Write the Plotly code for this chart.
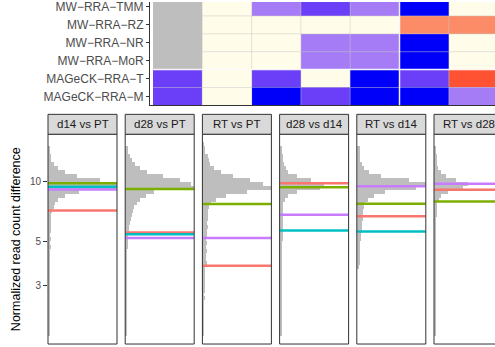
import numpy as np
import plotly.graph_objects as go

W, H = 495, 347
FONT = "Liberation Sans, Arial, sans-serif"

# ---------------- data ----------------
row_labels = ["MW−RRA−TMM", "MW−RRA−RZ", "MW−RRA−NR", "MW−RRA−MoR",
              "MAGeCK−RRA−T", "MAGeCK−RRA−M"]          # top -> bottom
heat_levels = [                                         # None = NA
    [None, 0, -1, -2, -1, -3, 0],
    [None, 0, 0, 0, 0, 1, 1],
    [None, 0, 0, -1, -1, -3, 0],
    [None, 0, 0, -1, -1, -3, 0],
    [-2, 0, -2, 0, -3, -2, 2],
    [-2, 0, -3, -2, -3, -3, -1],
]
level_order = [None, -3, -2, -1, 0, 1, 2]
level_colors = ["#BEBEBE", "#0000FA", "#6B3EF8", "#A67CF6", "#FFFDE9", "#FC8B68", "#FF5232"]

facet_labels = ["d14 vs PT", "d28 vs PT", "RT vs PT", "d28 vs d14", "RT vs d14", "RT vs d28"]

# histogram bins (log10 of normalized read count difference), top -> bottom
bin_top = 1.20
bin_step = 0.02
hist_counts = [
    # d14 vs PT
    [0, 3, 3, 4, 5, 9, 15, 25, 42, 75, 100, 97, 45, 24, 15, 10, 8, 6, 5, 5, 4, 5, 4, 3, 4,
     3, 4, 3, 3, 3, 2, 3, 2, 2, 2, 2, 2, 2, 2, 2, 2, 2, 2, 2, 2, 2, 2, 2, 2, 0],
    # d28 vs PT
    [0, 4, 5, 7, 10, 14, 22, 32, 55, 80, 95, 100, 42, 30, 22, 17, 13, 12, 10, 9, 7, 6, 6, 5, 5,
     4, 4, 3, 3, 3, 3, 3, 3, 3, 3, 3, 3, 3, 3, 3, 3, 3, 3, 3, 3, 3, 3, 2, 2, 0],
    # RT vs PT
    [3, 4, 5, 8, 10, 12, 18, 28, 45, 70, 88, 100, 65, 35, 20, 13, 10, 9, 8, 8, 7, 8, 7, 7, 6,
     7, 6, 7, 6, 6, 7, 5, 5, 5, 4, 4, 4, 4, 3, 4, 3, 3, 2, 2, 2, 2, 2, 2, 2, 0],
    # d28 vs d14
    [0, 3, 3, 4, 4, 6, 8, 12, 25, 45, 64, 58, 25, 12, 7, 5, 4, 4, 4, 4, 4, 4, 4, 4, 4,
     3, 3, 3, 3, 3, 3, 3, 3, 3, 3, 3, 3, 3, 3, 3, 3, 3, 3, 3, 3, 3, 3, 3, 3, 0],
    # RT vs d14
    [0, 4, 4, 5, 5, 7, 10, 18, 35, 75, 100, 85, 40, 24, 16, 12, 10, 9, 9, 8, 7, 7, 7, 6, 6,
     5, 5, 5, 4, 4, 4, 3, 0, 0, 0, 0, 0, 0, 0, 0, 0, 0, 0, 0, 0, 0, 0, 0, 0, 0],
    # RT vs d28
    [0, 3, 3, 4, 4, 4, 6, 10, 18, 32, 49, 42, 20, 10, 7, 5, 5, 4, 4, 3, 3, 3, 3, 3, 3,
     3, 3, 3, 3, 3, 3, 3, 3, 3, 3, 3, 3, 3, 3, 3, 3, 3, 3, 3, 3, 3, 3, 3, 3, 0],
]

# reference lines (normalized read count difference), per facet
line_red = [7.18, 5.56, 3.77, 9.85, 6.70, 9.12]
line_green = [9.85, 9.22, 7.73, 9.40, 7.75, 7.96]
line_cyan = [9.47, 5.44, None, 5.69, 5.61, None]
line_purple = [9.15, 5.21, 5.21, 6.82, 9.51, 9.80]
y_ticks = [3, 5, 10]

# ---------------- layout constants (pixels) ----------------
def fx(px):
    return px / W

def fy(py):
    return 1 - py / H

panel_x0 = [48, 125.2, 202.4, 279.6, 356.8, 434]
panel_w = 69
strip_top, panel_top, panel_bot = 113, 133, 344
y10_px, px_per_decade = 181, 199
y_lo = 1 - (panel_bot - y10_px) / px_per_decade
y_hi = 1 + (y10_px - panel_top) / px_per_decade

heat_axis_x, cell_left, cell_bottom = 150, 153, 104
col_w, row_h = 49.3, 18

fig = go.Figure()

# ---------------- heatmap ----------------
nrows, ncols = len(heat_levels), len(heat_levels[0])
z_codes = [[level_order.index(v) for v in heat_levels[nrows - 1 - j]] for j in range(nrows)]
ncode = len(level_order)
cscale = []
for k, c in enumerate(level_colors):
    cscale.append([k / ncode, c])
    cscale.append([(k + 1) / ncode, c])
fig.add_trace(go.Heatmap(
    z=z_codes, x=list(range(ncols)), y=list(range(nrows)),
    colorscale=cscale, zmin=-0.5, zmax=ncode - 0.5, showscale=False,
    hoverinfo="skip", xaxis="x", yaxis="y"))

x_lo = -0.5 - (cell_left - heat_axis_x) / col_w
fig.update_layout(
    xaxis=dict(domain=[fx(heat_axis_x), 1], range=[x_lo, x_lo + (W - heat_axis_x) / col_w],
               showticklabels=False, ticks="", showgrid=False, zeroline=False,
               showline=True, linecolor="#333333", linewidth=1, anchor="y"),
    yaxis=dict(domain=[fy(cell_bottom), 1], range=[-0.5, -0.5 + cell_bottom / row_h],
               tickvals=list(range(nrows)), ticktext=row_labels[::-1],
               ticks="outside", ticklen=3, tickcolor="#333333", tickwidth=1,
               ticklabeloverflow="allow",
               tickfont=dict(family=FONT, size=12, color="#4D4D4D"),
               showgrid=False, zeroline=False, showline=True, linecolor="#333333",
               linewidth=1, anchor="x"),
)

shapes = []
is_na = [[heat_levels[nrows - 1 - j][c] is None for c in range(ncols)] for j in range(nrows)]
grid_col = "rgba(200,200,200,0.5)"
for j in range(nrows - 1):
    for c in range(ncols):
        if is_na[j][c] and is_na[j + 1][c]:
            continue
        shapes.append(dict(type="line", xref="x", yref="y", x0=c - 0.5, x1=c + 0.5,
                           y0=j + 0.5, y1=j + 0.5, line=dict(color=grid_col, width=1)))
for c in range(ncols - 1):
    for j in range(nrows):
        if is_na[j][c] and is_na[j][c + 1]:
            continue
        shapes.append(dict(type="line", xref="x", yref="y", x0=c + 0.5, x1=c + 0.5,
                           y0=j - 0.5, y1=j + 0.5, line=dict(color=grid_col, width=1)))
# group separators
row_sep = 1.5   # between MW-RRA and MAGeCK rows
col_sep = 4.5
shapes.append(dict(type="line", xref="x", yref="y", x0=-0.5, x1=ncols - 0.5, y0=row_sep, y1=row_sep,
                   line=dict(color="rgba(255,255,255,0.9)", width=1.5)))
shapes.append(dict(type="line", xref="x", yref="y", x0=col_sep, x1=col_sep, y0=-0.5, y1=nrows - 0.5,
                   line=dict(color="rgba(255,255,255,0.9)", width=1.5)))

# ---------------- facet panels ----------------
annotations = []
bin_centers = [bin_top - bin_step * (i + 0.5) for i in range(len(hist_counts[0]))]
series_lines = [(line_red, "#F8766D"), (line_green, "#7CAE00"),
                (line_cyan, "#00BFC4"), (line_purple, "#C77CFF")]
for k in range(len(facet_labels)):
    ax = k + 2
    xa, ya = f"x{ax}", f"y{ax}"
    fig.add_trace(go.Bar(
        orientation="h", x=hist_counts[k], y=bin_centers, width=bin_step,
        marker=dict(color="#BEBEBE", line=dict(width=0)),
        hoverinfo="skip", xaxis=xa, yaxis=ya, showlegend=False))
    for vals, col in series_lines:
        v = vals[k]
        if v is None:
            continue
        lv = float(np.log10(v))
        fig.add_trace(go.Scatter(
            x=[0, 100], y=[lv, lv], mode="lines", line=dict(color=col, width=2.5),
            hoverinfo="skip", xaxis=xa, yaxis=ya, showlegend=False))
    x0 = panel_x0[k]
    x1 = x0 + panel_w
    vis_x1 = min(x1, W)
    xr = [0, 100 * (vis_x1 - x0) / panel_w]
    fig.layout[f"xaxis{ax}"] = dict(domain=[fx(x0), fx(vis_x1)], range=xr, visible=False,
                                    anchor=ya, fixedrange=True)
    yax = dict(domain=[fy(panel_bot), fy(panel_top)], range=[y_lo, y_hi], anchor=xa,
               showgrid=False, zeroline=False, showline=False)
    if k == 0:
        yax.update(tickvals=[float(np.log10(t)) for t in y_ticks],
                   ticktext=[str(t) for t in y_ticks], ticks="outside", ticklen=4,
                   tickcolor="#333333", tickwidth=1,
                   tickfont=dict(family=FONT, size=10, color="#4D4D4D"))
    else:
        yax.update(showticklabels=False, ticks="")
    fig.layout[f"yaxis{ax}"] = yax
    # panel border
    shapes.append(dict(type="rect", xref="paper", yref="paper", x0=fx(x0), x1=fx(x1),
                       y0=fy(panel_bot), y1=fy(panel_top), line=dict(color="#333333", width=1),
                       fillcolor="rgba(0,0,0,0)", layer="above"))
    # strip
    shapes.append(dict(type="rect", xref="paper", yref="paper", x0=fx(x0), x1=fx(x1),
                       y0=fy(panel_top), y1=fy(strip_top), line=dict(color="#333333", width=1),
                       fillcolor="#D9D9D9", layer="above"))
    annotations.append(dict(xref="paper", yref="paper", x=fx(x0 + panel_w / 2),
                            y=fy((strip_top + panel_top) / 2), text=facet_labels[k],
                            showarrow=False, xanchor="center", yanchor="middle",
                            font=dict(family=FONT, size=11.5, color="#1A1A1A")))

annotations.append(dict(xref="paper", yref="paper", x=fx(16), y=fy((panel_top + panel_bot) / 2),
                        text="Normalized read count difference", textangle=-90, showarrow=False,
                        xanchor="center", yanchor="middle",
                        font=dict(family=FONT, size=12.5, color="#000000")))

fig.update_layout(
    width=W, height=H, margin=dict(l=0, r=0, t=0, b=0),
    paper_bgcolor="white", plot_bgcolor="white", showlegend=False,
    bargap=0, barmode="overlay", shapes=shapes, annotations=annotations,
)

fig.write_html("out.html")
